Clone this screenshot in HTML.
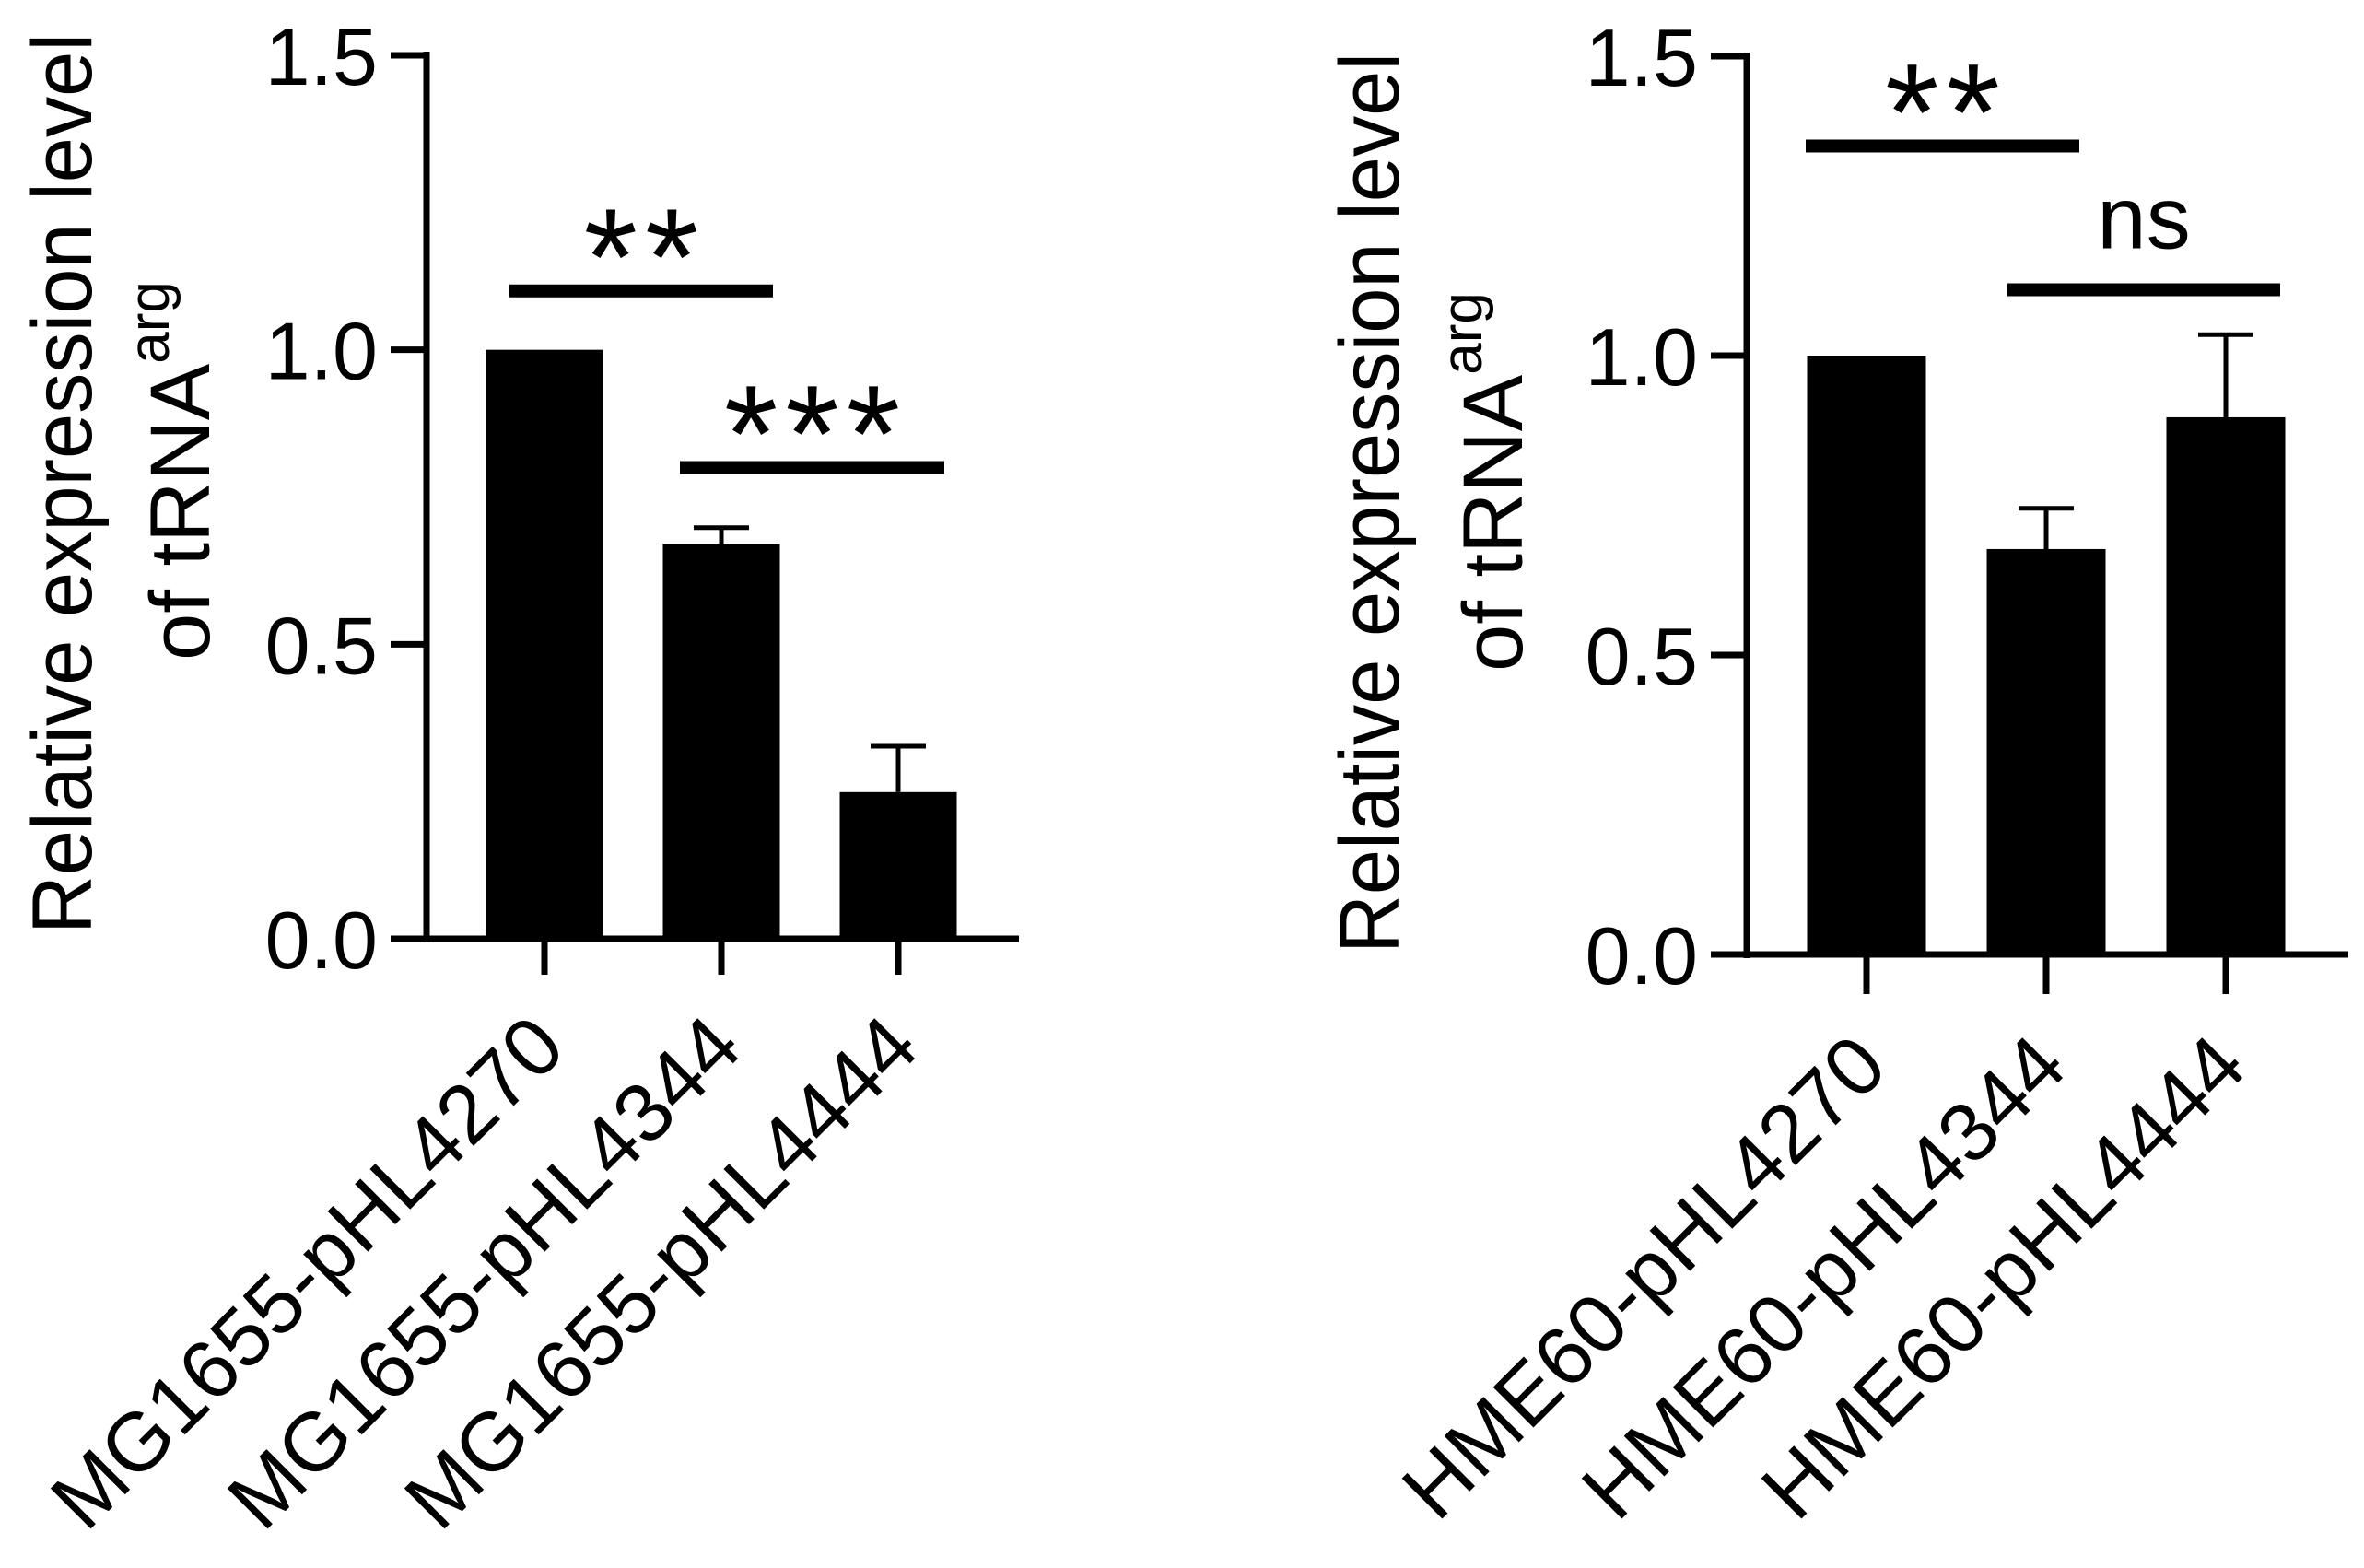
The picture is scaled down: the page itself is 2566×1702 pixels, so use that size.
<!DOCTYPE html>
<html><head><meta charset="utf-8"><style>
html,body{margin:0;padding:0;background:#fff}
svg{display:block;font-family:"Liberation Sans",Arial,sans-serif}
</style></head><body>
<svg id="fig" width="2566" height="1702" viewBox="0 0 2566 1702" xmlns="http://www.w3.org/2000/svg"></svg>
<script>
// ---- data ----
const leftCategories = ["MG1655-pHL4270","MG1655-pHL4344","MG1655-pHL4444"];
const leftValues = [1.0, 0.671, 0.249];
const leftErrors = [0, 0.027, 0.078];
const rightCategories = ["HME60-pHL4270","HME60-pHL4344","HME60-pHL4444"];
const rightValues = [1.0, 0.677, 0.897];
const rightErrors = [0, 0.068, 0.138];
const yTicks = [0.0, 0.5, 1.0, 1.5];
const yTickLabels = ["0.0","0.5","1.0","1.5"];
const leftSig = [{from:0,to:1,y:1.10,label:"**"},{from:1,to:2,y:0.80,label:"***"}];
const rightSig = [{from:0,to:1,y:1.35,label:"**"},{from:1,to:2,y:1.11,label:"ns"}];

const NS="http://www.w3.org/2000/svg";
const svg=document.getElementById('fig');
function mk(tag,attrs,parent){const e=document.createElementNS(NS,tag);for(const k in attrs)e.setAttribute(k,attrs[k]);(parent||svg).appendChild(e);return e;}

function drawPanel(cfg){
  const g=mk('g',{});
  
  
  const y=v=>cfg.y0-(v/1.5)*(cfg.y0-cfg.y15);
  const x=i=>cfg.c0+i*cfg.step;
  cfg.values.forEach((v,i)=>{
    const r=mk('rect',{x:x(i)-cfg.bw/2,y:y(v),width:cfg.bw,height:y(0)-y(v),fill:'#000'},g);
    
    
    const e=cfg.errors[i];
    if(e>0){
      const l=mk('line',{x1:x(i),x2:x(i),y1:y(v),y2:y(v+e),stroke:'#000','stroke-width':5},g);
      
      
      const c=mk('line',{x1:x(i)-30,x2:x(i)+30,y1:y(v+e),y2:y(v+e),stroke:'#000','stroke-width':5},g);
      
      
    }
  });
  const ax=mk('line',{x1:cfg.ax,x2:cfg.ax,y1:y(1.5)-4,y2:y(0)+4,stroke:'#000','stroke-width':7},g);
  
  
  const xa=mk('line',{x1:cfg.ax-39,x2:cfg.xEnd,y1:y(0),y2:y(0),stroke:'#000','stroke-width':7},g);
  
  
  yTicks.forEach((t,i)=>{
    const tk=mk('line',{x1:cfg.ax-39,x2:cfg.ax,y1:y(t),y2:y(t),stroke:'#000','stroke-width':7},g);
    
    
    const tx=mk('text',{x:cfg.ax-53,y:y(t)+32,'font-size':88,'text-anchor':'end',fill:'#000'},g);
    tx.textContent=yTickLabels[i];
    
    
  });
  cfg.cats.forEach((c,i)=>{
    const tk=mk('line',{x1:x(i),x2:x(i),y1:y(0),y2:y(0)+cfg.tickLen,stroke:'#000','stroke-width':7},g);
    
    
    const bx=x(i)+26, by=y(0)+cfg.tickLen+83;
    const tx=mk('text',{x:bx,y:by,'font-size':90,'text-anchor':'end',transform:`rotate(-45 ${bx} ${by})`,fill:'#000'},g);
    tx.textContent=c;
    
    
  });
  cfg.sig.forEach((s,k)=>{
    const x1=x(s.from)+cfg.sigOff[k][0], x2=x(s.to)+cfg.sigOff[k][1];
    const sl=mk('line',{x1:x1,x2:x2,y1:y(s.y),y2:y(s.y),stroke:'#000','stroke-width':14},g);
    
    
    const cx=(x1+x2)/2;
    let t;
    if(s.label==='ns'){
      t=mk('text',{x:cx,y:y(s.y)-45,'font-size':96,'text-anchor':'middle',fill:'#000'},g);
    }else{
      t=mk('text',{x:cx+4,y:y(s.y)+15,'font-size':150,'letter-spacing':8,'text-anchor':'middle',fill:'#000'},g);
    }
    t.textContent=s.label;
    
    
  });
  const t1=mk('text',{x:0,y:0,'font-size':92,'text-anchor':'middle',textLength:978,lengthAdjust:'spacingAndGlyphs',transform:`translate(${cfg.t1x} ${cfg.t1y}) rotate(-90)`,fill:'#000'},g);
  t1.textContent='Relative expression level';
  
  
  const t2=mk('text',{x:0,y:0,'font-size':92,'text-anchor':'middle',transform:`translate(${cfg.t2x} ${cfg.t2y}) rotate(-90)`,fill:'#000'},g);
  
  
  t2.appendChild(document.createTextNode('of tRNA'));
  const sup=mk('tspan',{'font-size':62,dy:-44},t2);
  sup.textContent='arg';
}

drawPanel({name:'left-chart',cats:leftCategories,values:leftValues,errors:leftErrors,sig:leftSig,
  ax:463,y0:1019,y15:60,c0:591,step:192,bw:127,xEnd:1106,tickLen:39,
  sigOff:[[-38,56],[-45,50]],
  t1x:99,t1y:525,t2x:227,t2y:511});
drawPanel({name:'right-chart',cats:rightCategories,values:rightValues,errors:rightErrors,sig:rightSig,
  ax:1896,y0:1036,y15:61,c0:2026,step:195,bw:129,xEnd:2549,tickLen:43,
  sigOff:[[-66,36],[-42,59]],
  t1x:1518,t1y:546,t2x:1652,t2y:523});
</script>
</body></html>
